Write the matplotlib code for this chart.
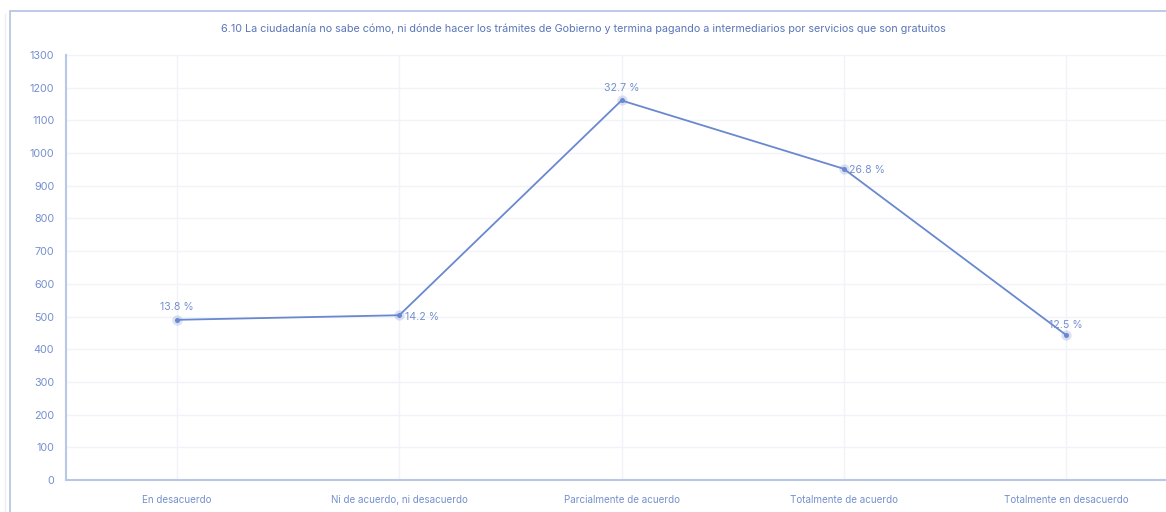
import matplotlib
matplotlib.use("Agg")
import matplotlib.pyplot as plt
from matplotlib.patches import Rectangle
from matplotlib.lines import Line2D

categories = ["En desacuerdo", "Ni de acuerdo, ni desacuerdo", "Parcialmente de acuerdo",
              "Totalmente de acuerdo", "Totalmente en desacuerdo"]
counts = [490, 504, 1161, 952, 444]
pct_labels = ["13.8 %", "14.2 %", "32.7 %", "26.8 %", "12.5 %"]
yticks = list(range(0, 1301, 100))
title = ("6.10 La ciudadanía no sabe cómo, ni dónde hacer los trámites de Gobierno "
         "y termina pagando a intermediarios por servicios que son gratuitos")

plt.rcParams['font.family'] = ['Inter', 'DejaVu Sans']

W, H = 1166, 512
fig = plt.figure(figsize=(W / 100, H / 100), dpi=100)
fig.patch.set_facecolor('white')

line_c = '#6a88cf'
text_c = '#7590cf'
title_c = '#5a76b8'
spine_c = '#b9c7e6'
grid_c = '#f0f3f9'

# outer card border (extends beyond the cropped image)
fig.add_artist(Rectangle((9.5 / W, -0.1), 1.2, 1 - 11 / H + 0.1, transform=fig.transFigure,
                         fill=False, edgecolor='#b3c1e2', linewidth=1.2))
fig.add_artist(Line2D([5 / W, 5 / W], [0, 1 - 14 / H], transform=fig.transFigure,
                      color='#eeeeee', linewidth=1))

left, right, top, bottom = 66 / W, 1177 / W, 1 - 55 / H, 1 - 480 / H
ax = fig.add_axes([left, bottom, right - left, top - bottom])
ax.set_facecolor('none')

x = list(range(len(categories)))
ax.plot(x, counts, color=line_c, linewidth=1.3, zorder=3)
ax.scatter(x, counts, s=55, color=line_c, alpha=0.25, zorder=3, linewidths=0)
ax.scatter(x, counts, s=13, color=line_c, zorder=4, linewidths=0)

ax.set_xlim(-0.5, len(categories) - 0.5)
ax.set_ylim(0, 1300)
ax.set_yticks(yticks)
ax.set_xticks(x)
ax.set_xticklabels(categories)
ax.tick_params(axis='both', length=0, colors=text_c)
ax.tick_params(axis='y', pad=8.5, labelsize=7.8)
ax.tick_params(axis='x', pad=11, labelsize=7.1)

ax.grid(True, color=grid_c, linewidth=1)
ax.set_axisbelow(True)
for s in ['top', 'right']:
    ax.spines[s].set_visible(False)
for s in ['left', 'bottom']:
    ax.spines[s].set_color(spine_c)
    ax.spines[s].set_linewidth(1.5)

# data labels
placements = [('center', (0, 9)), ('left', (4, -1)), ('center', (0, 9)),
              ('left', (4, -1)), ('center', (0, 7))]
for xi, yi, lab, (ha, off) in zip(x, counts, pct_labels, placements):
    ax.annotate(lab, (xi, yi), xytext=off, textcoords='offset points',
                ha=ha, va='center', fontsize=7.6, color=text_c, zorder=5)

fig.text(583 / W, 1 - 29 / H, title, ha='center', va='center', fontsize=7.8, color=title_c)

fig.savefig('out.png', dpi=100, facecolor='white')
